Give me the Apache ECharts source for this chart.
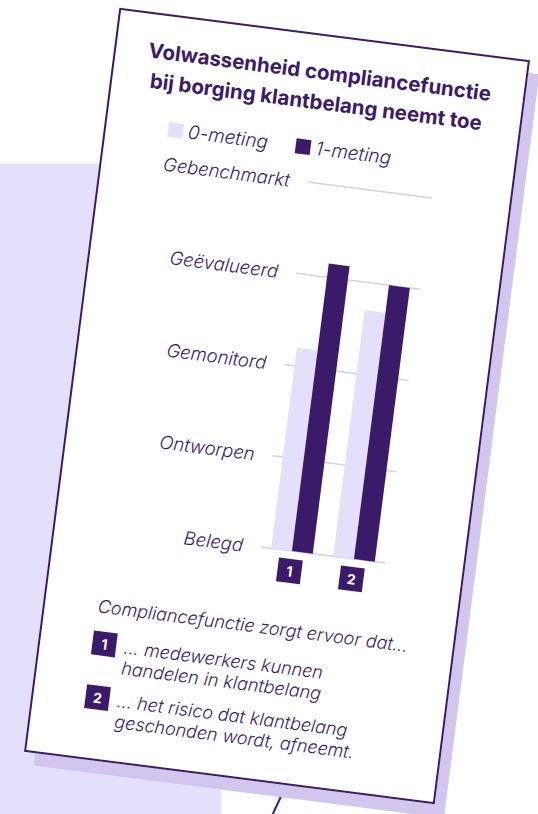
<!DOCTYPE html>
<html>
<head>
<meta charset="utf-8">
<script src="https://cdn.jsdelivr.net/npm/echarts@6/dist/echarts.min.js"></script>
<style>
  html, body { margin: 0; padding: 0; background: #fff; }
  body { width: 538px; height: 814px; position: relative; overflow: hidden; }
  .bgBlock { position: absolute; left: 0; top: 164px; width: 221px; height: 650px; background: #e4e0fc; }
  .stand { position: absolute; left: 276px; top: 792px; width: 2px; height: 26px; background: #3b1a69; transform: rotate(25deg); }
  .shadow, .card { position: absolute; left: 70px; top: 31px; width: 414px; height: 750px; box-sizing: border-box; }
  .shadow { background: #d2c6ee; transform: rotate(7.3deg) translate(11px, 12.5px); }
  .card { background: #fff; border: 2px solid #3b1a69; transform: rotate(7.3deg); }
  .card .chart { position: absolute; left: -2px; top: -2px; width: 414px; height: 750px; }
</style>
</head>
<body>
<div class="bgBlock"></div>
<div class="stand"></div>
<div class="shadow"></div>
<div class="card"><div class="chart" id="chart"></div></div>
<script>
// 数据
const levels = ["Belegd", "Ontworpen", "Gemonitord", "Geëvalueerd", "Gebenchmarkt"];
const categories = ["1", "2"];
const seriesNames = ["0-meting", "1-meting"];
const meting0 = [2.2, 2.7];
const meting1 = [3.15, 3.0];
const titleText = "Volwassenheid compliancefunctie\nbij borging klantbelang neemt toe";
const noteHead = "Compliancefunctie zorgt ervoor dat...";
const notes = [
  "... medewerkers kunnen\nhandelen in klantbelang",
  "... het risico dat klantbelang\ngeschonden wordt, afneemt."
];

const dark = "#3b1a69";
const light = "#e4e0fc";
const lineColor = "#d6ccf2";
const font = "Inter";

let chart = echarts.init(document.getElementById("chart"), null, { renderer: "svg" });

// footnote blocks
let graphics = [
  {
    type: "text",
    left: 55,
    top: 587,
    style: { text: noteHead, fill: dark, fontSize: 18, fontWeight: 300, fontStyle: "italic", fontFamily: font }
  }
];
notes.forEach(function(t, i) {
  let y = [621, 675][i];
  graphics.push({
    type: "rect",
    shape: { x: 54, y: y, width: 24, height: 24 },
    style: { fill: dark }
  });
  graphics.push({
    type: "text",
    x: 66,
    y: y + 12,
    style: { text: String(i + 1), fill: "#fff", fontSize: 14, fontWeight: "bold", fontFamily: font, align: "center", verticalAlign: "middle" }
  });
  graphics.push({
    type: "text",
    x: 86,
    y: y + 2,
    style: { text: t, fill: dark, fontSize: 18, fontWeight: 300, lineHeight: 21, fontStyle: "italic", fontFamily: font, verticalAlign: "top" }
  });
});

let option = {
  animation: false,
  title: {
    text: titleText,
    left: "center",
    top: 23,
    padding: 0,
    textStyle: { color: dark, fontSize: 20.5, fontWeight: "bold", fontFamily: font, lineHeight: 30 }
  },
  legend: {
    left: 64,
    top: 105,
    padding: 0,
    itemWidth: 15,
    itemHeight: 15,
    itemGap: 28,
    icon: "rect",
    data: seriesNames,
    textStyle: { color: dark, fontSize: 19, fontWeight: 300, fontStyle: "italic", fontFamily: font }
  },
  grid: { left: 209, right: 80, top: 149, bottom: 233 },
  xAxis: {
    type: "category",
    data: categories,
    axisLine: { show: false },
    axisTick: { show: false },
    axisLabel: {
      margin: 8,
      formatter: function(v) { return "{b|" + v + "}"; },
      rich: {
        b: { backgroundColor: dark, color: "#fff", fontWeight: "bold", fontSize: 14, fontFamily: font,
             width: 24, height: 24, lineHeight: 24, align: "center" }
      }
    }
  },
  yAxis: {
    type: "value",
    min: 0,
    max: 4,
    interval: 1,
    axisLine: { show: false },
    axisTick: { show: false },
    splitLine: { lineStyle: { color: lineColor, width: 1.5 } },
    axisLabel: {
      margin: 18,
      color: dark,
      fontSize: 18.5,
      fontWeight: 300,
      fontStyle: "italic",
      fontFamily: font,
      padding: [0, 0, 6, 0],
      formatter: function(v) { return levels[v]; }
    }
  },
  series: [
    { name: seriesNames[0], type: "bar", data: meting0, barWidth: 21, barGap: "0%", itemStyle: { color: light } },
    { name: seriesNames[1], type: "bar", data: meting1, barWidth: 21, itemStyle: { color: dark } }
  ],
  graphic: graphics
};
chart.setOption(option);
</script>
</body>
</html>
